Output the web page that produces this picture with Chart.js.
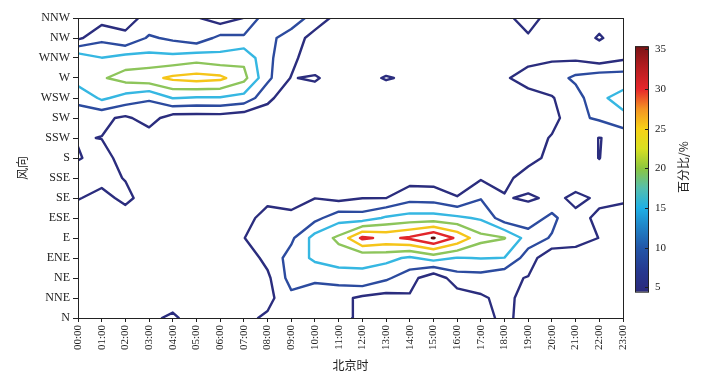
<!DOCTYPE html>
<html>
<head>
<meta charset="utf-8">
<script src="https://cdn.jsdelivr.net/npm/chart.js@4.4.1/dist/chart.umd.min.js"></script>
<style>
  html, body { margin: 0; padding: 0; background: #fff; }
</style>
</head>
<body>
<canvas id="chart" width="709" height="383"></canvas>
<script>
const hours = ['00:00','01:00','02:00','03:00','04:00','05:00','06:00','07:00','08:00','09:00','10:00','11:00',
               '12:00','13:00','14:00','15:00','16:00','17:00','18:00','19:00','20:00','21:00','22:00','23:00'];
const directions = ['N','NNE','NE','ENE','E','ESE','SE','SSE','S','SSW','SW','WSW','W','WNW','NW','NNW'];

// contour levels (%), and the colour bar ticks
const levels = [5, 10, 15, 20, 25, 30, 35];
const levelColors = ['#2b2d7e', '#2c4b9f', '#36b7e2', '#8dc55b', '#f5c51a', '#e1262b', '#5c0c0c'];
const cbTicks = [5, 10, 15, 20, 25, 30, 35];

// wind direction frequency (%) per hour, one row per direction (00:00 .. 23:00)
const rowN   = [2, 2, 2, 4.41, 5.5, 3.5, 2.5, 3.8, 5.8, 7, 7, 7, 3.5, 2, 2, 1, 1.5, 2.5, 6.67, 2.16, 2, 2, 2, 2];
const rowNNE = [2, 2, 2, 2.5, 3.65, 2.5, 2, 2.5, 3.5, 8.7, 7, 6.5, 4, 3, 4.4, 1, 2.4, 4.25, 6.5, 3, 2, 2, 2, 2];
const rowNE  = [2, 2, 2, 2, 2, 2, 2, 2, 4, 12, 11, 12, 14.1, 10.9, 7, 1.5, 7.8, 8, 6, 4.75, 2, 2, 2, 2];
const rowENE = [2, 2, 2, 2, 2, 2, 2, 2, 6.5, 12, 16, 17.7, 16, 16.5, 14.2, 17, 14.7, 15.2, 14.9, 7.5, 1, 2.5, 2.5, 2.5];
const rowE   = [2, 2, 2, 2, 2, 2, 2, 4.9, 7.5, 9, 17, 21, 31, 28.8, 30.8, 35.3, 29, 21.6, 20.2, 12.77, 9.5, 7, 4.9, 3];
const rowESE = [3, 3, 3.5, 3, 3, 3, 3, 4.08, 6, 6, 8.5, 13, 12.25, 15.7, 17, 17, 16, 14.3, 7.2, 6.8, 11.5, 5.4, 4.75, 2.3];
const rowSE  = [5.2, 4, 5.8, 3.5, 3, 3, 3, 2, 4.3, 3.5, 4.93, 3.6, 4.9, 4.95, 8.3, 8, 5.3, 9.7, 5.24, 4.6, 5.5, 4.6, 5.27, 6];
const rowSSE = [8, 6, 4.84, 3, 3, 3, 3, 1.5, 2, 2, 2, 2, 2, 2, 2.8, 2.7, 2, 4.5, 4.2, 6.34, 6.5, 5.93, 7, 6.5];
const rowS   = [4.6, 6.77, 3.08, 3, 3, 3, 3, 3, 3, 3, 3, 3, 3, 3, 3, 3, 3, 3, 3, 4, 5.8, 8, 4.9, 8];
const rowSSW = [5.3, 4.9, 3, 2.74, 2.5, 2.5, 2.5, 2.5, 2.5, 2.5, 2.5, 2.5, 2.5, 2.5, 2.5, 2.5, 2.5, 2.5, 2.5, 2.2, 5.5, 7, 4.9, 6];
const rowSW  = [9.07, 6, 4.2, 7, 2.7, 2.6, 2.7, 1.5, 1.5, 1, 2, 2, 2, 2, 2, 2, 2, 2, 2, 3, 3, 8.9, 10.73, 14];
const rowWSW = [10.5, 16, 13, 10.5, 15.2, 14.5, 14.6, 13.2, 6.5, 1, 1.5, 2.5, 2.5, 2.5, 2.5, 2.5, 2.5, 2.5, 3, 3.6, 4.7, 7.74, 14.2, 16.5];
const rowW   = [18, 19.44, 22, 23.5, 26, 27, 26.2, 21.5, 11.1, 4.7, 5.77, 1.9, 3.8, 5.3, 4.4, 3.5, 3.5, 4, 4.55, 6.5, 7.5, 11.07, 12.9, 12.76];
const rowWNW = [18.3, 15.1, 17, 16.6, 16.5, 17.9, 16.6, 18.8, 11, 6.83, 0.5, 1, 2, 2.5, 2.5, 2.5, 2.5, 3, 3.5, 3.87, 4.45, 4.09, 2.03, 4.14];
const rowNW  = [4, 8.7, 5.6, 10.74, 9.0, 7.0, 11.36, 10.86, 11, 8.37, 2.56, 1.5, 1.5, 2, 2, 2, 2, 2.5, 3, 4.7, 3, 3, 5.4, 3];
const rowNNW = [2, 3, 4, 5.8, 6, 5.5, 2.3, 5.14, 13, 12, 8.55, 2.9, 2.5, 2.5, 2.5, 2.5, 2.5, 3, 4.4, 6, 4, 3, 3.5, 3];

const grid = [rowN, rowNNE, rowNE, rowENE, rowE, rowESE, rowSE, rowSSE,
              rowS, rowSSW, rowSW, rowWSW, rowW, rowWNW, rowNW, rowNNW];

// marching squares -> line pieces for one level
function contourSegments(z, lv) {
  const segs = [];
  const R = z.length, C = z[0].length;
  const hx = (c, r) => [c + (lv - z[r][c]) / (z[r][c + 1] - z[r][c]), r];   // horizontal edge
  const vy = (c, r) => [c, r + (lv - z[r][c]) / (z[r + 1][c] - z[r][c])];   // vertical edge
  for (let r = 0; r < R - 1; r++) {
    for (let c = 0; c < C - 1; c++) {
      const v = [z[r][c], z[r][c + 1], z[r + 1][c + 1], z[r + 1][c]];
      const hi = v.map(x => x >= lv);
      const edges = [
        hi[0] !== hi[1] ? hx(c, r) : null,
        hi[1] !== hi[2] ? vy(c + 1, r) : null,
        hi[2] !== hi[3] ? hx(c, r + 1) : null,
        hi[3] !== hi[0] ? vy(c, r) : null
      ];
      const idx = [0, 1, 2, 3].filter(i => edges[i]);
      if (idx.length === 2) {
        segs.push([edges[idx[0]], edges[idx[1]]]);
      } else if (idx.length === 4) {
        const centre = (v[0] + v[1] + v[2] + v[3]) / 4 >= lv;
        // corner k touches edges (k+3)%4 and k
        for (let k = 0; k < 4; k++) {
          if (hi[k] !== centre) segs.push([edges[(k + 3) % 4], edges[k]]);
        }
      }
    }
  }
  return segs;
}

// join the pieces into polylines
function chain(segs) {
  const key = p => p[0].toFixed(5) + ',' + p[1].toFixed(5);
  const ends = new Map();
  segs.forEach((s, i) => {
    s.forEach(p => {
      const k = key(p);
      if (!ends.has(k)) ends.set(k, []);
      ends.get(k).push(i);
    });
  });
  const used = segs.map(() => false);
  const lines = [];
  for (let i = 0; i < segs.length; i++) {
    if (used[i]) continue;
    used[i] = true;
    const line = [segs[i][0], segs[i][1]];
    for (const forward of [true, false]) {
      while (true) {
        const tip = forward ? line[line.length - 1] : line[0];
        const next = (ends.get(key(tip)) || []).find(j => !used[j]);
        if (next === undefined) break;
        used[next] = true;
        const s = segs[next];
        const other = key(s[0]) === key(tip) ? s[1] : s[0];
        if (forward) line.push(other); else line.unshift(other);
      }
    }
    lines.push(line);
  }
  return lines;
}

const datasets = levels.map((lv, i) => {
  const data = [];
  chain(contourSegments(grid, lv)).forEach(line => {
    line.forEach(p => data.push({ x: p[0], y: p[1] }));
    data.push({ x: NaN, y: NaN });
  });
  return {
    label: lv + '%',
    data: data,
    showLine: true,
    spanGaps: false,
    borderColor: levelColors[i],
    backgroundColor: levelColors[i],
    borderWidth: 2.4,
    borderJoinStyle: 'round',
    borderCapStyle: 'round',
    pointRadius: 0,
    tension: 0
  };
});

// colour map for the bar on the right
const cbStops  = [4.45, 7, 10, 13, 15, 17.5, 20, 22.5, 25, 27.5, 30, 33, 35.4];
const cbColors = ['#2b2a7b', '#26388f', '#2256a8', '#1f8acb', '#1fb0e5', '#55bfae', '#8cc63f',
                  '#d9e021', '#f7d117', '#f39323', '#e6262b', '#b01c1f', '#7a1416'];

const serif = 'Liberation Serif';
const cjk = '"Noto Sans CJK SC"';

const framePlugin = {
  id: 'frame',
  afterDraw(chart) {
    const { ctx, chartArea: a } = chart;
    ctx.save();
    ctx.strokeStyle = '#222';
    ctx.lineWidth = 1;
    ctx.strokeRect(a.left + 0.5, a.top + 0.5, a.right - a.left, a.bottom - a.top);
    ctx.restore();
  }
};

const colorBarPlugin = {
  id: 'colorBar',
  afterDraw(chart) {
    const ctx = chart.ctx;
    const x0 = 635, w = 13;
    const yOf = v => 287.3 - (v - 5) * 7.93;
    const top = yOf(cbStops[cbStops.length - 1]), bottom = yOf(cbStops[0]);
    const g = ctx.createLinearGradient(0, bottom, 0, top);
    cbStops.forEach((s, i) => g.addColorStop((s - cbStops[0]) / (cbStops[cbStops.length - 1] - cbStops[0]), cbColors[i]));
    ctx.save();
    ctx.fillStyle = g;
    ctx.fillRect(x0, top, w, bottom - top);
    ctx.strokeStyle = '#222';
    ctx.lineWidth = 1;
    ctx.strokeRect(x0 + 0.5, top + 0.5, w, bottom - top);
    ctx.fillStyle = '#222';
    ctx.font = '11px "' + serif + '"';
    ctx.textAlign = 'left';
    ctx.textBaseline = 'middle';
    cbTicks.forEach(t => {
      const y = Math.round(yOf(t)) + 0.5;
      ctx.beginPath();
      ctx.moveTo(x0 + w - 3, y);
      ctx.lineTo(x0 + w, y);
      ctx.stroke();
      ctx.fillText(String(t), x0 + w + 7, y);
    });
    ctx.translate(683, 167);
    ctx.rotate(-Math.PI / 2);
    ctx.textAlign = 'center';
    ctx.font = '12px ' + cjk;
    ctx.fillText('百分比/%', 0, 0);
    ctx.restore();
  }
};

new Chart(document.getElementById('chart'), {
  type: 'scatter',
  data: { datasets: datasets },
  plugins: [framePlugin, colorBarPlugin],
  options: {
    responsive: false,
    devicePixelRatio: 1,
    animation: false,
    layout: { padding: { top: 18, right: 86, left: 0, bottom: 0 } },
    plugins: { legend: { display: false }, tooltip: { enabled: false } },
    scales: {
      x: {
        type: 'linear',
        min: 0,
        max: hours.length - 1,
        afterBuildTicks: s => { s.ticks = hours.map((h, i) => ({ value: i })); },
        afterFit: s => { s.height = 65; },
        ticks: {
          autoSkip: false,
          maxRotation: 90,
          minRotation: 90,
          padding: 3,
          color: '#222',
          font: { family: serif, size: 11 },
          callback: v => hours[v]
        },
        grid: { drawOnChartArea: false, tickLength: 4, color: '#222' },
        border: { color: '#222', width: 1 },
        title: { display: true, text: '北京时', color: '#222', font: { family: cjk, size: 12 }, padding: { top: 0, bottom: 10 } }
      },
      y: {
        type: 'linear',
        min: 0,
        max: directions.length - 1,
        afterBuildTicks: s => { s.ticks = directions.map((d, i) => ({ value: i })); },
        afterFit: s => { s.width = 78; },
        ticks: {
          autoSkip: false,
          padding: 3,
          color: '#222',
          font: { family: serif, size: 12 },
          callback: v => directions[v]
        },
        grid: { drawOnChartArea: false, tickLength: 5, color: '#222' },
        border: { color: '#222', width: 1 },
        title: { display: true, text: '风向', color: '#222', font: { family: cjk, size: 12 }, padding: { top: 15 } }
      }
    }
  }
});
</script>
</body>
</html>
